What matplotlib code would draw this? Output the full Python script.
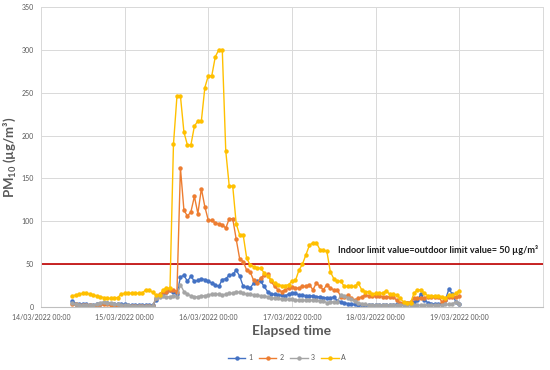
import numpy as np
import pandas as pd
import matplotlib
matplotlib.use("Agg")
import matplotlib.pyplot as plt
import matplotlib.dates as mdates

plt.rcParams['font.family'] = ['Lato', 'DejaVu Sans']
plt.rcParams['mathtext.fontset'] = 'custom'
plt.rcParams['mathtext.rm'] = 'Lato:bold'
plt.rcParams['mathtext.bf'] = 'Lato:bold'
plt.rcParams['mathtext.default'] = 'bf'

start_time = "2022-03-14 09:00"
n_points = 112

s1 = [7,4,3,3,3,2,2,3,4,5,
      5,4,3,3,3,3,2,2,2,2,
      2,2,2,2,8,14,16,18,20,18,
      15,35,37,30,36,30,31,33,32,30,
      28,26,24,32,33,37,38,43,36,24,
      23,22,28,30,30,24,18,15,15,14,
      14,13,15,16,16,14,14,13,13,13,
      12,12,11,11,10,12,7,6,5,4,
      3,3,2,2,2,2,2,2,2,2,
      2,2,2,3,3,4,5,5,6,8,
      15,8,5,4,3,3,4,8,21,15,
      6,3]
s2 = [4,3,2,2,2,2,1,2,3,4,
      4,2,1,1,1,1,1,1,1,1,
      1,1,1,1,10,15,18,18,20,20,
      18,162,113,106,111,129,109,138,117,101,
      101,98,97,96,92,103,103,79,56,53,
      43,41,31,28,34,37,38,30,24,20,
      18,20,22,23,22,22,24,24,26,20,
      28,24,20,26,22,20,20,12,12,14,
      10,8,10,12,14,13,13,13,13,12,
      12,12,12,8,5,5,5,6,10,10,
      10,11,12,12,12,12,6,8,12,12,
      12,13]
s3 = [5,3,2,2,2,2,2,3,5,6,
      5,5,3,3,2,2,2,1,1,1,
      1,1,1,1,10,12,13,12,12,13,
      12,26,18,15,13,12,12,13,13,14,
      15,15,15,14,15,16,16,18,17,16,
      15,15,14,14,13,13,12,11,10,10,
      9,9,9,9,8,8,8,8,8,8,
      8,7,7,5,6,6,6,14,13,11,
      9,7,5,4,3,2,2,2,2,2,
      2,2,2,2,2,2,2,2,2,2,
      2,2,2,2,2,2,2,3,3,4,
      6,4]
sA = [13,14,15,16,16,15,14,13,12,11,
      10,10,11,11,15,16,16,16,16,16,
      16,20,20,17,14,14,20,22,22,190,
      246,246,204,189,189,211,217,217,256,270,
      270,292,300,300,182,141,141,97,84,84,
      57,49,47,46,45,40,36,32,28,26,
      25,25,26,30,31,43,50,61,72,75,
      75,67,66,65,41,33,30,30,24,24,
      24,24,28,20,18,18,15,16,16,16,
      19,15,15,14,10,6,5,5,16,20,
      20,16,13,13,13,13,12,10,14,14,
      16,19]

series_names = ["1", "2", "3", "A"]
series_values = [s1, s2, s3, sA]
colors = ["#4472C4", "#ED7D31", "#A5A5A5", "#FFC000"]

limit_value = 50
limit_text = "Indoor limit value=outdoor limit value= 50 \u00b5g/m\u00b3"
tick_dates = ["2022-03-14", "2022-03-15", "2022-03-16", "2022-03-17", "2022-03-18", "2022-03-19"]
y_ticks = [0, 50, 100, 150, 200, 250, 300, 350]

times = pd.date_range(start_time, periods=n_points, freq="h")

fig = plt.figure(figsize=(5.5, 3.7), dpi=100)
ax = fig.add_axes([41/550, 1-307/370, (543-41)/550, 300/370])

for name, vals, c in zip(series_names, series_values, colors):
    ax.plot(times, vals, color=c, lw=1.0, marker="o", ms=2.2, label=name)

ax.axhline(limit_value, color="#C00000", lw=1.2, zorder=1)

ax.set_xlim(pd.Timestamp("2022-03-14"), pd.Timestamp("2022-03-20"))
ax.set_ylim(0, 350)
ax.set_yticks(y_ticks)
ax.set_xticks(pd.to_datetime(tick_dates))
ax.xaxis.set_major_formatter(mdates.DateFormatter("%d/%m/%Y %H:%M"))
ax.grid(True, color="#D9D9D9", lw=0.7)
ax.set_axisbelow(True)
for side in ["top", "right", "left"]:
    ax.spines[side].set_color("#D9D9D9")
    ax.spines[side].set_linewidth(0.7)
ax.spines["bottom"].set_color("#BFBFBF")
ax.tick_params(length=0, labelsize=5, colors="#595959", pad=5)

ax.set_ylabel("PM$_{10}$ (\u00b5g/m\u00b3)", fontsize=9.5, fontweight="bold", color="#595959")
ax.yaxis.set_label_coords(-0.045, 0.5)
ax.set_xlabel("Elapsed time", fontsize=10, fontweight="bold", color="#595959", labelpad=3)

ax.text((338-41)/502, 66/350, limit_text, transform=ax.transAxes, fontsize=6.6,
        fontweight="bold", color="#1a1a1a", va="center", ha="left")

ax.legend(loc="center", bbox_to_anchor=(0.49, -0.17), ncol=4, frameon=False,
          fontsize=5, handlelength=2.5, labelcolor="#595959", columnspacing=1.0,
          handletextpad=0.4)

fig.savefig("out.png", dpi=100)
